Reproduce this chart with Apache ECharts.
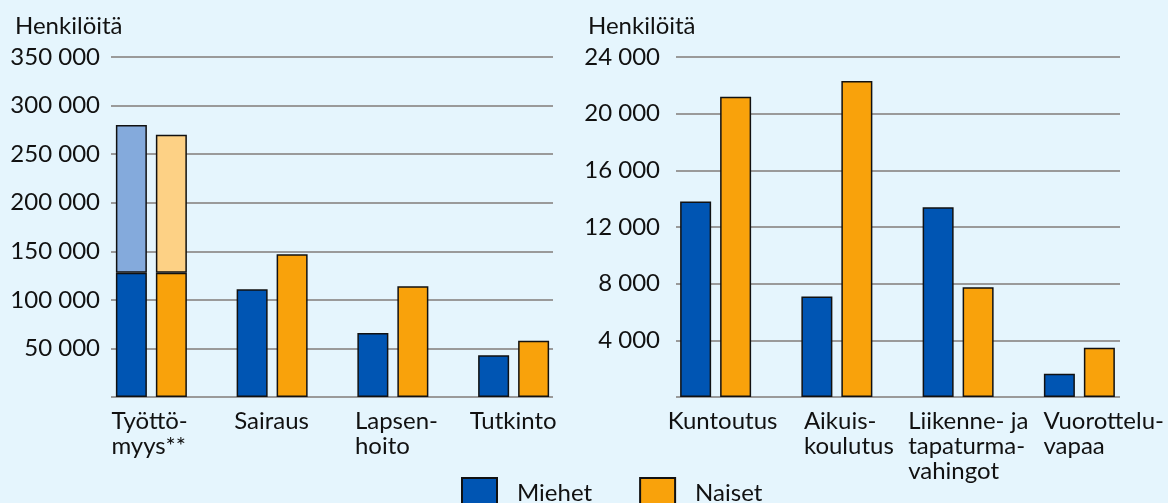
<!DOCTYPE html>
<html>
<head>
<meta charset="utf-8">
<script src="https://cdn.jsdelivr.net/npm/echarts@6/dist/echarts.min.js"></script>
<style>
  html, body { margin: 0; padding: 0; background: #e5f5fd; }
  #chart { width: 1168px; height: 503px; }
</style>
</head>
<body>
<div id="chart"></div>
<script>
// vasen kaavio (henkilöitä)
const leftCategories = ['Työttö-\nmyys**', 'Sairaus', 'Lapsen-\nhoito', 'Tutkinto'];
const leftMiehet = [128000, 111000, 66000, 43000];
const leftNaiset = [128000, 147000, 114000, 58000];
// työttömyys yhteensä (vaaleampi osa pinotaan päälle)
const tyottomyysMiehetYht = 280000;
const tyottomyysNaisetYht = 270000;
const leftTicks = { min: 0, max: 350000, interval: 50000 };

// oikea kaavio
const rightCategories = ['Kuntoutus', 'Aikuis-\nkoulutus', 'Liikenne- ja\ntapaturma-\nvahingot', 'Vuorottelu-\nvapaa'];
const rightMiehet = [13800, 7100, 13400, 1650];
const rightNaiset = [21200, 22300, 7750, 3480];
const rightTicks = { min: 0, max: 24000, interval: 4000 };

const FONT = 'Lato';
const BLUE = '#0055b3';
const ORANGE = '#f9a20b';
const LIGHT_BLUE = '#84aadc';
const LIGHT_ORANGE = '#fdd185';
const GRID_COLOR = '#9a9a9a';

// kuinka paljon tekstin vasen reuna on ryhmän keskikohdan vasemmalla puolella (px)
const leftLabelInset = [40, 38, 38, 44];
const rightLabelInset = [48, 33, 50, 36];
const LABEL_BOX = 140;

function fmt(v) {
  if (v === 0) return '';
  return String(v).replace(/\B(?=(\d{3})+(?!\d))/g, ' ');
}

function catLabel(value, idx) {
  return value.split('\n').map(s => '{c' + idx + '|' + s + '}').join('\n');
}

function labelRich(insets) {
  const rich = {};
  insets.forEach((d, i) => {
    rich['c' + i] = {
      width: LABEL_BOX, align: 'left', padding: [0, 0, 0, LABEL_BOX - 2 * d],
      fontFamily: FONT, fontSize: 24, lineHeight: 25, color: '#111'
    };
  });
  return rich;
}

const barStyle = (color) => ({ color: color, borderColor: '#111', borderWidth: 1.5 });

const leftExtraM = ['-', '-', '-', '-'];
const leftExtraN = ['-', '-', '-', '-'];
leftExtraM[0] = tyottomyysMiehetYht - leftMiehet[0];
leftExtraN[0] = tyottomyysNaisetYht - leftNaiset[0];

const chart = echarts.init(document.getElementById('chart'), null, { renderer: 'canvas' });

const catAxis = (gridIndex, data, insets) => ({
  type: 'category', gridIndex, data,
  axisLine: { show: false }, axisTick: { show: false },
  axisLabel: { interval: 0, margin: 12, formatter: catLabel, rich: labelRich(insets) }
});
const hiddenCat = (gridIndex) => ({ type: 'category', gridIndex, data: [], show: false });
const hiddenVal = (gridIndex, t) => ({ type: 'value', gridIndex, min: t.min, max: t.max, interval: t.interval, show: false, splitLine: { show: false } });
const gridVal = (gridIndex, t, margin) => ({
  type: 'value', gridIndex, min: t.min, max: t.max, interval: t.interval,
  axisLine: { show: false }, axisTick: { show: false },
  axisLabel: { formatter: fmt, margin, fontFamily: FONT, fontSize: 24, color: '#111' },
  splitLine: { lineStyle: { color: GRID_COLOR, width: 2 } }
});
const gridBox = (left, width) => ({ left, width, top: 57, height: 340, containLabel: false, outerBoundsMode: 'none' });

const titleStyle = { fontFamily: FONT, fontSize: 24, fontWeight: 'normal', color: '#111' };

chart.setOption({
  backgroundColor: '#e5f5fd',
  animation: false,
  title: [
    { text: 'Henkilöitä', left: 10, top: 9, textStyle: titleStyle },
    { text: 'Henkilöitä', left: 583, top: 9, textStyle: titleStyle }
  ],
  legend: {
    data: ['Miehet', 'Naiset'],
    top: 477, left: 461, padding: 0,
    icon: 'rect', itemWidth: 35, itemHeight: 30, itemGap: 47,
    textStyle: { fontFamily: FONT, fontSize: 24, color: '#111', padding: [0, 0, 0, 15] }
  },
  grid: [gridBox(91, 483), gridBox(111, 442), gridBox(655, 485), gridBox(676, 444)],
  xAxis: [catAxis(0, leftCategories, leftLabelInset), hiddenCat(1), catAxis(2, rightCategories, rightLabelInset), hiddenCat(3)],
  yAxis: [hiddenVal(0, leftTicks), gridVal(1, leftTicks, 11), hiddenVal(2, rightTicks), gridVal(3, rightTicks, 16)],
  series: [
    { name: 'Miehet', type: 'bar', xAxisIndex: 0, yAxisIndex: 0, stack: 'm', barWidth: 31, barGap: '29%', data: leftMiehet, itemStyle: barStyle(BLUE) },
    { name: 'Naiset', type: 'bar', xAxisIndex: 0, yAxisIndex: 0, stack: 'n', barWidth: 31, barGap: '29%', data: leftNaiset, itemStyle: barStyle(ORANGE) },
    { name: 'Miehet, yhteensä', type: 'bar', xAxisIndex: 0, yAxisIndex: 0, stack: 'm', barWidth: 31, data: leftExtraM, itemStyle: barStyle(LIGHT_BLUE) },
    { name: 'Naiset, yhteensä', type: 'bar', xAxisIndex: 0, yAxisIndex: 0, stack: 'n', barWidth: 31, data: leftExtraN, itemStyle: barStyle(LIGHT_ORANGE) },
    { name: 'Miehet', type: 'bar', xAxisIndex: 2, yAxisIndex: 2, barWidth: 31, barGap: '29%', data: rightMiehet, itemStyle: barStyle(BLUE) },
    { name: 'Naiset', type: 'bar', xAxisIndex: 2, yAxisIndex: 2, barWidth: 31, barGap: '29%', data: rightNaiset, itemStyle: barStyle(ORANGE) }
  ]
});
</script>
</body>
</html>
